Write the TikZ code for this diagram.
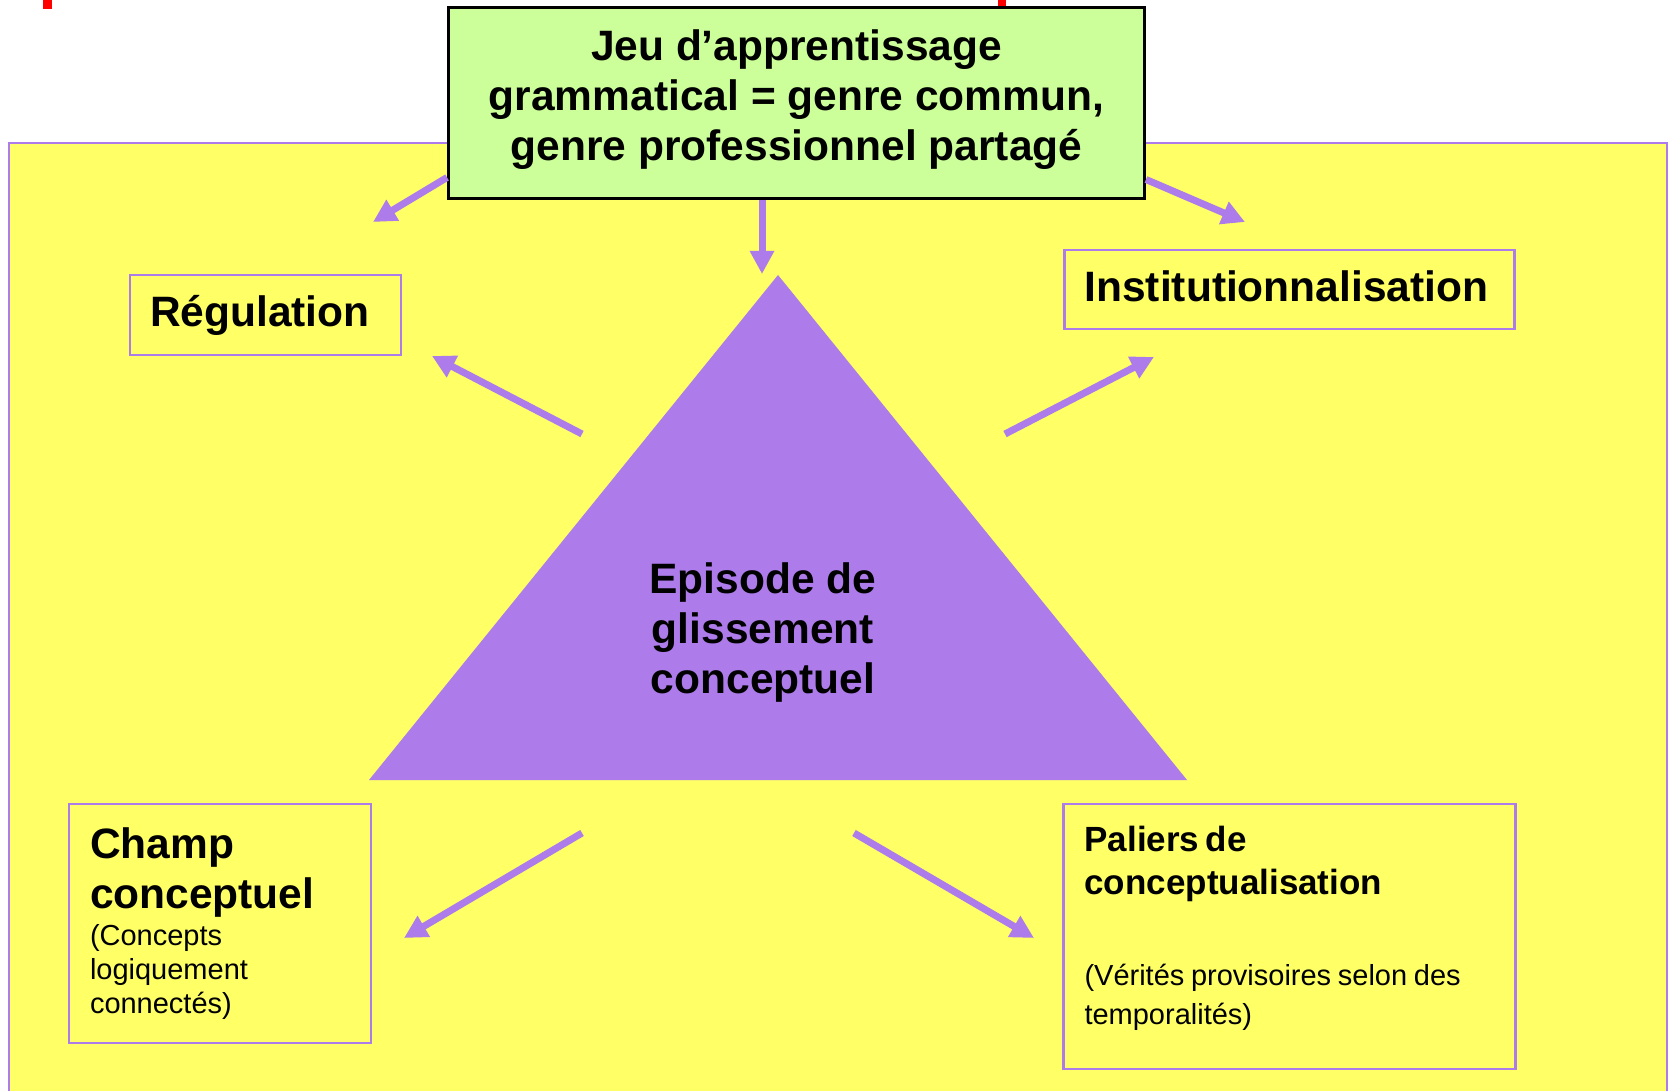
\documentclass[tikz,border=0pt]{standalone}
\usepackage{fontspec}
\setmainfont{Liberation Sans}
\usetikzlibrary{arrows.meta}
\setlength{\parindent}{0pt}

\definecolor{lilac}{RGB}{173,123,234}
\definecolor{pale}{RGB}{255,255,102}
\definecolor{leaf}{RGB}{204,255,153}

\newcommand{\headfont}{\fontsize{21.25pt}{25pt}\selectfont\bfseries}
\newcommand{\midfont}{\fontsize{17.5pt}{21.5pt}\selectfont\bfseries}
\newcommand{\notefont}{\fontsize{14.5pt}{17pt}\selectfont}

\begin{document}
\begin{tikzpicture}[
    x=0.5pt, y=-0.5pt,
    link/.style={draw=lilac, line width=3.5pt, -{Triangle[length=11.5pt,width=11.5pt]}},
    box/.style={rectangle, draw=lilac, line width=1.25pt, fill=pale, align=left, inner xsep=10pt},
    jeubox/.style={rectangle, draw=black, line width=1.5pt, fill=leaf, align=center, font=\headfont},
    ]
    \useasboundingbox (0,0) rectangle (1671,1091);
    \fill[pale] (9,143) rectangle (1667,1095);
    \draw[lilac, line width=1.25pt] (9,143) rectangle (1667,1095);
    \fill[red] (43,0) rectangle (52,9);
    \fill[red] (998,0) rectangle (1006,10);

    \node[jeubox, minimum width=348pt, minimum height=95.5pt] (jeu) at (796.5,103.5)
        {Jeu d’apprentissage\\ grammatical = genre commun,\\ genre professionnel partagé\rule[-8.5pt]{0pt}{0pt}};

    \node[box, text width=115.5pt, minimum height=40pt] (regulation) at (265.5,315) {\headfont Régulation};
    \node[box, text width=205pt, minimum height=39.5pt] (inst) at (1289.5,289.5) {\headfont Institutionnalisation\rule[-3pt]{0pt}{0pt}};
    \node[box, text width=130pt, inner xsep=10.5pt, minimum height=119.5pt] (champ) at (220,923.5)
        {{\headfont Champ\\ conceptuel\par}\vspace{1.5pt}{\notefont (Concepts\\ logiquement\\ connectés)\par}};
    \node[box, text width=205pt, inner xsep=10.5pt, minimum height=132.5pt] (paliers) at (1289.5,936.5)
        {{\midfont Paliers de\\ conceptualisation\par}\vspace{26pt}{\notefont\baselineskip=19.5pt (Vérités provisoires selon des\\ temporalités)\rule[-10.75pt]{0pt}{0pt}\par}};

    \coordinate (apex) at (778,275);
    \coordinate (left) at (369,780);
    \coordinate (right) at (1187,780);
    \fill[lilac] (apex) -- (right) -- (left) -- cycle;
    \node[font=\headfont, align=center] (episode) at (763,633) {Episode de\\ glissement\\ conceptuel};

    \coordinate (jeu-l) at (373,222);
    \coordinate (jeu-d) at (762,274);
    \coordinate (jeu-r) at (1245,222);
    \draw[link] ([yshift=11.5pt]jeu.south west) -- (jeu-l);
    \draw[link] (jeu.south -| jeu-d) -- (jeu-d);
    \draw[link] ([yshift=10.5pt]jeu.south east) -- (jeu-r);

    \coordinate (tri-nw) at (582,434);
    \coordinate (reg-in) at (432,356);
    \coordinate (tri-ne) at (1005,434);
    \coordinate (inst-in) at (1154,357);
    \coordinate (tri-sw) at (582,833);
    \coordinate (champ-in) at (404,938);
    \coordinate (tri-se) at (854,833);
    \coordinate (pal-in) at (1034,938);
    \draw[link] (tri-nw) -- (reg-in);
    \draw[link] (tri-ne) -- (inst-in);
    \draw[link] (tri-sw) -- (champ-in);
    \draw[link] (tri-se) -- (pal-in);
\end{tikzpicture}
\end{document}
